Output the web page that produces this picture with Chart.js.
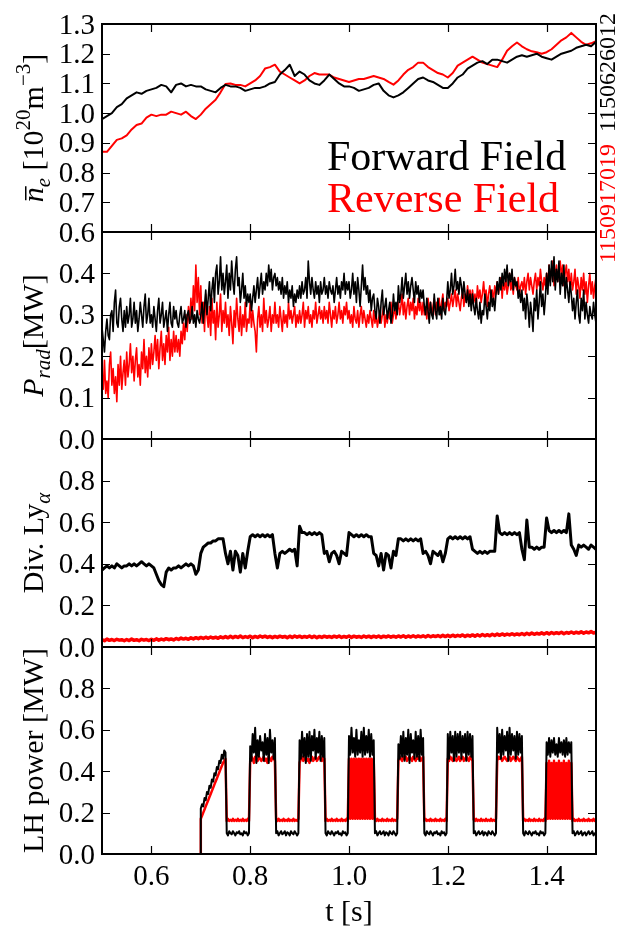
<!DOCTYPE html>
<html>
<head>
<meta charset="utf-8">
<script src="https://cdn.jsdelivr.net/npm/chart.js"></script>
<style>
  body { margin: 0; background: #fff; }
  #wrap { position: relative; width: 619px; height: 930px; }
  #wrap canvas { position: absolute; left: 0; top: 0; }
</style>
<script>
// time bases (s)
var tNe = Array.from({length: 101}, (_, i) => +(0.5 + i * 0.01).toFixed(2));
var tLya = Array.from({length: 201}, (_, i) => +(0.5 + i * 0.005).toFixed(3));
var tPrad = Array.from({length: 401}, (_, i) => +(0.5 + i * 0.0025).toFixed(4));
var tLH = [0.6999].concat(Array.from({length: 321}, (_, i) => +(0.7 + i * 0.0025).toFixed(4)));

// line averaged density [1e20 m^-3]
var neFwd = [
  0.98,0.99,1.00,1.02,1.03,1.05,1.06,1.07,1.065,1.075,
  1.08,1.085,1.095,1.09,1.07,1.095,1.10,1.09,1.095,1.09,
  1.09,1.08,1.075,1.07,1.085,1.095,1.09,1.09,1.085,1.075,
  1.08,1.085,1.085,1.09,1.10,1.105,1.13,1.145,1.163,1.125,
  1.14,1.13,1.11,1.10,1.095,1.11,1.13,1.115,1.10,1.09,
  1.09,1.085,1.075,1.08,1.085,1.095,1.10,1.075,1.06,1.053,
  1.06,1.07,1.085,1.10,1.115,1.12,1.11,1.105,1.095,1.085,
  1.085,1.10,1.12,1.13,1.15,1.16,1.17,1.175,1.165,1.18,
  1.18,1.175,1.17,1.18,1.19,1.195,1.19,1.195,1.20,1.19,
  1.185,1.18,1.19,1.20,1.205,1.21,1.22,1.225,1.23,1.225,1.24
];
var neRev = [
  0.87,0.87,0.89,0.91,0.915,0.925,0.945,0.96,0.965,0.985,
  0.995,0.99,0.995,0.995,1.005,1.00,0.995,1.005,0.99,0.98,
  0.995,1.015,1.03,1.045,1.07,1.098,1.10,1.095,1.095,1.09,
  1.10,1.11,1.125,1.15,1.155,1.163,1.14,1.13,1.12,1.11,
  1.10,1.11,1.125,1.135,1.13,1.13,1.13,1.12,1.115,1.11,
  1.105,1.11,1.115,1.115,1.12,1.125,1.12,1.115,1.105,1.096,
  1.11,1.13,1.146,1.155,1.17,1.17,1.155,1.145,1.135,1.13,
  1.12,1.135,1.16,1.17,1.18,1.19,1.18,1.17,1.165,1.16,
  1.155,1.18,1.21,1.225,1.238,1.225,1.215,1.208,1.205,1.20,
  1.205,1.215,1.23,1.245,1.255,1.27,1.255,1.24,1.23,1.235,1.242
];

// radiated power [MW], 2.5 ms samples
var pradFwd = [
  0.27,0.24,0.21,0.26,0.29,0.25,0.24,0.30,0.31,0.26,0.33,0.36,0.28,0.27,0.32,0.34,0.29,0.26,0.31,0.27,
  0.32,0.28,0.30,0.34,0.27,0.29,0.33,0.28,0.31,0.26,0.29,0.33,0.30,0.27,0.32,0.35,0.28,0.30,0.34,0.28,
  0.30,0.27,0.32,0.29,0.26,0.31,0.34,0.28,0.30,0.33,0.27,0.29,0.31,0.26,0.30,0.33,0.28,0.27,0.32,0.29,
  0.31,0.28,0.27,0.30,0.32,0.28,0.29,0.31,0.27,0.30,0.31,0.28,0.29,0.32,0.28,0.30,0.27,0.31,0.29,0.28,
  0.30,0.33,0.28,0.32,0.36,0.30,0.34,0.38,0.31,0.36,0.39,0.33,0.40,0.42,0.35,0.38,0.44,0.36,0.40,0.35,
  0.38,0.42,0.34,0.40,0.36,0.43,0.38,0.35,0.41,0.44,0.37,0.39,0.33,0.36,0.40,0.34,0.37,0.32,0.35,0.33,
  0.35,0.31,0.34,0.37,0.33,0.36,0.39,0.34,0.37,0.40,0.35,0.38,0.36,0.40,0.37,0.42,0.38,0.41,0.36,0.39,
  0.40,0.37,0.39,0.36,0.38,0.35,0.39,0.34,0.37,0.35,0.38,0.33,0.36,0.34,0.37,0.32,0.35,0.33,0.36,0.34,
  0.37,0.34,0.38,0.35,0.36,0.39,0.34,0.43,0.38,0.35,0.39,0.36,0.34,0.38,0.35,0.37,0.33,0.38,0.35,0.36,
  0.39,0.35,0.37,0.34,0.38,0.36,0.35,0.37,0.33,0.36,0.39,0.35,0.37,0.34,0.38,0.36,0.40,0.35,0.38,0.36,
  0.38,0.34,0.36,0.40,0.35,0.38,0.33,0.39,0.36,0.32,0.37,0.42,0.36,0.39,0.35,0.37,0.33,0.36,0.31,0.34,
  0.35,0.31,0.29,0.34,0.32,0.28,0.33,0.36,0.30,0.32,0.34,0.29,0.31,0.33,0.28,0.30,0.35,0.31,0.33,0.30,
  0.37,0.33,0.35,0.39,0.34,0.37,0.40,0.35,0.38,0.34,0.37,0.39,0.36,0.33,0.38,0.35,0.37,0.33,0.36,0.34,
  0.36,0.32,0.30,0.34,0.31,0.28,0.33,0.30,0.29,0.35,0.31,0.29,0.34,0.30,0.32,0.29,0.34,0.31,0.30,0.33,
  0.38,0.34,0.36,0.40,0.35,0.37,0.41,0.36,0.38,0.35,0.39,0.37,0.34,0.38,0.35,0.33,0.36,0.32,0.35,0.31,
  0.35,0.32,0.30,0.34,0.31,0.29,0.33,0.28,0.31,0.30,0.35,0.32,0.29,0.33,0.31,0.36,0.32,0.34,0.31,0.35,
  0.38,0.35,0.39,0.36,0.40,0.37,0.41,0.38,0.42,0.37,0.40,0.38,0.41,0.36,0.39,0.37,0.38,0.34,0.36,0.33,
  0.36,0.31,0.34,0.29,0.35,0.32,0.27,0.33,0.30,0.26,0.34,0.31,0.36,0.29,0.33,0.38,0.32,0.35,0.30,0.34,
  0.40,0.35,0.42,0.37,0.43,0.38,0.44,0.36,0.41,0.38,0.43,0.35,0.40,0.37,0.42,0.34,0.39,0.36,0.33,0.38,
  0.35,0.31,0.34,0.29,0.33,0.36,0.30,0.28,0.34,0.31,0.36,0.29,0.33,0.30,0.28,0.32,0.30,0.29,0.33,0.30,
  0.28
];
var pradRev = [
  0.16,0.12,0.19,0.11,0.14,0.10,0.18,0.21,0.13,0.17,0.11,0.15,0.09,0.18,0.13,0.20,0.12,0.16,0.19,0.13,
  0.21,0.15,0.18,0.23,0.16,0.20,0.14,0.19,0.22,0.15,0.18,0.13,0.21,0.17,0.24,0.16,0.20,0.15,0.22,0.17,
  0.23,0.18,0.21,0.25,0.19,0.24,0.17,0.22,0.26,0.19,0.23,0.18,0.25,0.21,0.27,0.19,0.24,0.20,0.26,0.21,
  0.25,0.21,0.24,0.20,0.26,0.23,0.28,0.24,0.30,0.26,0.32,0.28,0.34,0.29,0.37,0.31,0.42,0.33,0.39,0.30,
  0.37,0.28,0.33,0.26,0.35,0.30,0.27,0.32,0.25,0.34,0.28,0.31,0.24,0.33,0.27,0.30,0.35,0.26,0.31,0.28,
  0.33,0.27,0.30,0.25,0.32,0.28,0.23,0.31,0.27,0.34,0.29,0.26,0.32,0.25,0.30,0.27,0.33,0.26,0.29,0.28,
  0.33,0.27,0.31,0.28,0.26,0.21,0.29,0.32,0.27,0.30,0.26,0.34,0.28,0.31,0.27,0.29,0.32,0.26,0.30,0.28,
  0.33,0.28,0.30,0.27,0.32,0.29,0.26,0.31,0.28,0.30,0.27,0.33,0.29,0.31,0.28,0.30,0.32,0.27,0.30,0.28,
  0.31,0.28,0.30,0.33,0.27,0.31,0.29,0.32,0.28,0.30,0.27,0.31,0.29,0.33,0.28,0.30,0.32,0.29,0.31,0.28,
  0.32,0.29,0.31,0.28,0.33,0.30,0.27,0.31,0.29,0.32,0.28,0.30,0.33,0.29,0.31,0.28,0.32,0.30,0.33,0.29,
  0.31,0.28,0.30,0.27,0.32,0.29,0.28,0.31,0.27,0.30,0.32,0.28,0.31,0.29,0.27,0.30,0.28,0.31,0.29,0.27,
  0.31,0.28,0.30,0.27,0.29,0.31,0.28,0.30,0.32,0.27,0.30,0.28,0.31,0.29,0.33,0.28,0.30,0.32,0.29,0.31,
  0.33,0.30,0.32,0.35,0.30,0.33,0.29,0.32,0.34,0.30,0.33,0.31,0.34,0.29,0.32,0.30,0.34,0.31,0.33,0.30,
  0.33,0.30,0.32,0.29,0.34,0.31,0.33,0.30,0.32,0.34,0.30,0.33,0.31,0.34,0.30,0.33,0.35,0.31,0.33,0.32,
  0.34,0.31,0.33,0.35,0.32,0.34,0.36,0.32,0.35,0.33,0.31,0.34,0.36,0.32,0.35,0.33,0.37,0.34,0.36,0.33,
  0.36,0.33,0.35,0.32,0.37,0.34,0.36,0.33,0.35,0.38,0.34,0.36,0.32,0.35,0.37,0.34,0.36,0.33,0.37,0.35,
  0.38,0.35,0.37,0.39,0.34,0.38,0.36,0.39,0.35,0.37,0.40,0.36,0.38,0.35,0.39,0.37,0.36,0.39,0.35,0.37,
  0.38,0.36,0.39,0.35,0.38,0.40,0.36,0.39,0.37,0.35,0.38,0.40,0.36,0.39,0.37,0.41,0.38,0.36,0.39,0.37,
  0.40,0.37,0.42,0.38,0.41,0.43,0.37,0.40,0.42,0.38,0.41,0.43,0.39,0.42,0.37,0.40,0.42,0.38,0.41,0.36,
  0.40,0.36,0.38,0.41,0.35,0.39,0.37,0.34,0.39,0.36,0.40,0.35,0.38,0.33,0.37,0.40,0.35,0.38,0.34,0.37,
  0.39
];

// divertor Ly-alpha, 5 ms samples
var lyaFwd = [
  0.37,0.38,0.39,0.38,0.39,0.38,0.40,0.39,0.38,0.39,
  0.39,0.40,0.39,0.40,0.39,0.40,0.41,0.40,0.39,0.40,
  0.39,0.38,0.35,0.32,0.30,0.29,0.36,0.38,0.37,0.38,
  0.38,0.39,0.38,0.39,0.40,0.39,0.40,0.39,0.35,0.37,
  0.45,0.48,0.49,0.50,0.50,0.51,0.51,0.52,0.52,0.52,
  0.45,0.40,0.46,0.37,0.46,0.44,0.36,0.45,0.38,0.46,
  0.53,0.54,0.53,0.54,0.53,0.54,0.53,0.54,0.53,0.54,
  0.45,0.38,0.45,0.46,0.45,0.46,0.47,0.46,0.47,0.39,
  0.58,0.55,0.55,0.54,0.55,0.54,0.55,0.54,0.55,0.54,
  0.45,0.46,0.41,0.45,0.46,0.44,0.40,0.46,0.45,0.44,
  0.55,0.54,0.53,0.54,0.53,0.54,0.53,0.54,0.53,0.53,
  0.45,0.44,0.39,0.45,0.37,0.45,0.44,0.38,0.46,0.44,
  0.52,0.52,0.51,0.52,0.51,0.52,0.51,0.52,0.51,0.52,
  0.45,0.46,0.44,0.40,0.46,0.45,0.44,0.46,0.41,0.45,
  0.52,0.53,0.52,0.53,0.52,0.53,0.52,0.53,0.52,0.53,
  0.47,0.46,0.45,0.46,0.45,0.46,0.45,0.46,0.46,0.46,
  0.63,0.55,0.54,0.55,0.54,0.55,0.54,0.55,0.54,0.55,
  0.47,0.42,0.61,0.48,0.48,0.47,0.48,0.47,0.48,0.48,
  0.62,0.56,0.55,0.56,0.55,0.56,0.55,0.56,0.55,0.64,
  0.49,0.47,0.44,0.49,0.48,0.49,0.48,0.47,0.49,0.48,
  0.47
];
var lyaRev = [
  0.035,0.030,0.038,0.032,0.036,0.031,0.037,0.033,0.035,0.030,
  0.036,0.031,0.038,0.032,0.035,0.030,0.037,0.033,0.036,0.031,
  0.037,0.032,0.039,0.033,0.038,0.034,0.040,0.035,0.039,0.034,
  0.041,0.036,0.043,0.038,0.042,0.037,0.044,0.039,0.045,0.040,
  0.046,0.041,0.047,0.042,0.048,0.043,0.047,0.042,0.049,0.044,
  0.050,0.044,0.052,0.045,0.051,0.046,0.053,0.045,0.050,0.046,
  0.052,0.045,0.051,0.046,0.053,0.047,0.052,0.046,0.051,0.045,
  0.051,0.046,0.052,0.047,0.051,0.045,0.052,0.046,0.053,0.047,
  0.052,0.046,0.051,0.047,0.053,0.046,0.052,0.045,0.051,0.046,
  0.052,0.047,0.051,0.046,0.052,0.047,0.053,0.046,0.051,0.047,
  0.053,0.046,0.052,0.047,0.051,0.046,0.053,0.047,0.052,0.046,
  0.052,0.047,0.053,0.046,0.052,0.048,0.053,0.047,0.052,0.047,
  0.053,0.048,0.054,0.047,0.053,0.048,0.054,0.048,0.053,0.049,
  0.054,0.048,0.055,0.049,0.054,0.050,0.055,0.049,0.056,0.050,
  0.056,0.050,0.057,0.051,0.056,0.052,0.058,0.051,0.057,0.052,
  0.058,0.052,0.059,0.053,0.060,0.054,0.059,0.054,0.061,0.055,
  0.062,0.056,0.063,0.057,0.062,0.058,0.064,0.058,0.063,0.059,
  0.065,0.059,0.066,0.060,0.067,0.061,0.066,0.062,0.068,0.062,
  0.069,0.063,0.070,0.064,0.069,0.065,0.071,0.064,0.070,0.066,
  0.072,0.066,0.071,0.067,0.073,0.066,0.072,0.068,0.074,0.067,
  0.071
];

// LH power [MW], 2.5 ms samples from 0.7 s
var lhFwd = [0,
  0.22,0.24,0.23,0.27,0.26,0.30,0.29,0.33,0.32,0.36,0.35,0.39,0.38,0.42,0.41,0.45,0.44,0.48,0.46,0.50,0.49,
  0.10,0.09,0.11,0.10,0.095,0.11,0.10,0.09,0.105,0.10,0.11,0.095,0.10,0.09,0.11,0.10,0.105,0.09,0.10,
  0.52,0.45,0.58,0.49,0.61,0.44,0.55,0.47,0.57,0.50,0.54,0.45,0.58,0.48,0.56,0.44,0.60,0.49,0.55,0.46,0.56,
  0.10,0.11,0.09,0.10,0.11,0.095,0.10,0.11,0.09,0.105,0.10,0.09,0.11,0.10,0.095,0.11,0.10,0.09,0.10,
  0.55,0.46,0.59,0.47,0.56,0.44,0.58,0.47,0.59,0.45,0.57,0.50,0.60,0.46,0.56,0.49,0.59,0.45,0.57,0.47,0.56,
  0.10,0.09,0.11,0.10,0.095,0.11,0.10,0.09,0.105,0.10,0.11,0.095,0.10,0.09,0.11,0.10,0.105,0.09,0.10,
  0.57,0.48,0.61,0.49,0.56,0.47,0.60,0.48,0.55,0.49,0.59,0.47,0.61,0.48,0.57,0.49,0.60,0.47,0.58,0.48,0.55,
  0.10,0.11,0.09,0.10,0.11,0.095,0.10,0.11,0.09,0.105,0.10,0.09,0.11,0.10,0.095,0.11,0.10,0.09,0.10,
  0.53,0.46,0.57,0.47,0.59,0.45,0.56,0.48,0.60,0.44,0.58,0.49,0.55,0.46,0.59,0.47,0.57,0.45,0.60,0.48,0.56,
  0.10,0.09,0.11,0.10,0.095,0.11,0.10,0.09,0.105,0.10,0.11,0.095,0.10,0.09,0.11,0.10,0.105,0.09,0.10,
  0.58,0.46,0.59,0.49,0.57,0.45,0.59,0.47,0.58,0.49,0.59,0.46,0.57,0.49,0.58,0.45,0.59,0.48,0.58,0.47,0.57,
  0.10,0.11,0.09,0.10,0.11,0.095,0.10,0.11,0.09,0.105,0.10,0.09,0.11,0.10,0.095,0.11,0.10,0.09,0.10,
  0.61,0.49,0.58,0.46,0.60,0.48,0.57,0.50,0.59,0.45,0.61,0.48,0.58,0.50,0.57,0.46,0.59,0.48,0.58,0.49,0.57,
  0.10,0.09,0.11,0.10,0.095,0.11,0.10,0.09,0.105,0.10,0.11,0.095,0.10,0.09,0.11,0.10,0.105,0.09,0.10,
  0.54,0.48,0.56,0.47,0.55,0.49,0.56,0.48,0.53,0.47,0.56,0.49,0.54,0.48,0.55,0.47,0.56,0.48,0.54,0.49,0.54,
  0.10,0.11,0.09,0.10,0.11,0.095,0.10,0.11,0.09,0.10,0.105,0.09,0.10,0.11,0.095,0.10,0.11,0.09,0.10,0.10
];
var lhRev = [0,
  0.17,0.185,0.20,0.215,0.23,0.245,0.26,0.275,0.29,0.305,0.32,0.335,0.35,0.365,0.38,0.395,0.41,0.425,0.44,0.45,0.46,
  0.16,0.17,0.16,0.165,0.16,0.17,0.16,0.165,0.16,0.17,0.16,0.165,0.16,0.17,0.16,0.165,0.16,0.17,0.16,
  0.45,0.47,0.46,0.44,0.47,0.46,0.45,0.47,0.46,0.45,0.46,0.47,0.45,0.46,0.44,0.47,0.46,0.45,0.47,0.46,0.45,
  0.165,0.16,0.17,0.16,0.165,0.16,0.17,0.16,0.165,0.16,0.17,0.16,0.165,0.16,0.17,0.16,0.165,0.16,0.17,
  0.44,0.46,0.47,0.45,0.46,0.47,0.45,0.46,0.44,0.46,0.47,0.45,0.46,0.47,0.45,0.46,0.47,0.46,0.45,0.47,0.46,
  0.16,0.17,0.16,0.165,0.16,0.17,0.16,0.165,0.16,0.17,0.16,0.165,0.16,0.17,0.16,0.165,0.16,0.17,0.16,
  0.46,0.17,0.46,0.17,0.46,0.17,0.46,0.17,0.46,0.17,0.46,0.17,0.46,0.17,0.46,0.17,0.46,0.17,0.46,0.17,0.46,
  0.165,0.16,0.17,0.16,0.165,0.16,0.17,0.16,0.165,0.16,0.17,0.16,0.165,0.16,0.17,0.16,0.165,0.16,0.17,
  0.45,0.47,0.46,0.45,0.47,0.46,0.47,0.45,0.46,0.47,0.46,0.45,0.47,0.46,0.45,0.47,0.46,0.47,0.45,0.46,0.47,
  0.16,0.17,0.16,0.165,0.16,0.17,0.16,0.165,0.16,0.17,0.16,0.165,0.16,0.17,0.16,0.165,0.16,0.17,0.16,
  0.46,0.45,0.47,0.46,0.45,0.47,0.46,0.45,0.46,0.47,0.45,0.46,0.47,0.45,0.46,0.47,0.46,0.45,0.47,0.46,0.45,
  0.165,0.16,0.17,0.16,0.165,0.16,0.17,0.16,0.165,0.16,0.17,0.16,0.165,0.16,0.17,0.16,0.165,0.16,0.17,
  0.45,0.47,0.46,0.47,0.45,0.46,0.47,0.46,0.45,0.46,0.47,0.45,0.46,0.47,0.46,0.45,0.47,0.46,0.45,0.46,0.47,
  0.16,0.17,0.16,0.165,0.16,0.17,0.16,0.165,0.16,0.17,0.16,0.165,0.16,0.17,0.16,0.165,0.16,0.17,0.16,
  0.44,0.17,0.45,0.17,0.44,0.17,0.45,0.17,0.44,0.17,0.45,0.17,0.44,0.17,0.45,0.17,0.44,0.17,0.45,0.17,0.44,
  0.16,0.17,0.16,0.165,0.16,0.17,0.16,0.165,0.16,0.17,0.16,0.165,0.16,0.17,0.16,0.165,0.16,0.17,0.16,0.165
];

// tick labels
var tTicks = ['0.6', '0.8', '1.0', '1.2', '1.4'];
var neTicks = ['0.6', '0.7', '0.8', '0.9', '1.0', '1.1', '1.2', '1.3'];
var pradTicks = ['0.0', '0.1', '0.2', '0.3', '0.4'];
var lyaTicks = ['0.0', '0.2', '0.4', '0.6', '0.8'];
var lhTicks = ['0.0', '0.2', '0.4', '0.6', '0.8'];

var shotFwd = '1150626012';
var shotRev = '1150917019';
</script>
</head>
<body>
<div id="wrap">
  <canvas id="ne" width="619" height="930"></canvas>
  <canvas id="prad" width="619" height="930"></canvas>
  <canvas id="lya" width="619" height="930"></canvas>
  <canvas id="lh" width="619" height="930"></canvas>
</div>
<script>
var FONT = '"Liberation Serif", "DejaVu Serif", serif';

var panels = {
  ne:   {top: 24,  bottom: 232, min: 0.6, max: 1.3, t: tNe,   fwd: neFwd,   rev: neRev,   lw: [2, 2],
         ticks: neTicks,
         title: [{t: 'n', it: 1, bar: 1}, {t: 'e', it: 1, sub: 1}, {t: ' [10'}, {t: '20', sup: 1}, {t: 'm'}, {t: '\u22123', sup: 1}, {t: ']'}]},
  prad: {top: 232, bottom: 439, min: 0, max: 0.5, t: tPrad, fwd: pradFwd, rev: pradRev, lw: [1.6, 1.6],
         ticks: pradTicks,
         title: [{t: 'P', it: 1}, {t: 'rad', it: 1, sub: 1}, {t: '[MW]'}]},
  lya:  {top: 439, bottom: 647, min: 0, max: 1.0, t: tLya,  fwd: lyaFwd,  rev: lyaRev,  lw: [3, 3.5],
         ticks: lyaTicks,
         title: [{t: 'Div. Ly'}, {t: '\u03b1', it: 1, sub: 1}]},
  lh:   {top: 647, bottom: 854, min: 0, max: 1.0, t: tLH,   fwd: lhFwd,   rev: lhRev,   lw: [2, 2.5],
         ticks: lhTicks,
         title: [{t: 'LH power [MW]'}]}
};

function xy(ts, vs) {
  return ts.map((t, i) => ({x: t, y: vs[i]}));
}

// y-axis title with sub/superscripts, rotated
function drawRich(ctx, runs, x, y, size) {
  ctx.save();
  ctx.translate(x, y);
  ctx.rotate(-Math.PI / 2);
  var parts = runs.map(r => {
    var s = (r.sub || r.sup) ? Math.round(size * 0.7) : size;
    var font = (r.it ? 'italic ' : '') + s + 'px ' + FONT;
    ctx.font = font;
    return {r: r, font: font, w: ctx.measureText(r.t).width, dy: r.sub ? size * 0.22 : (r.sup ? -size * 0.42 : 0)};
  });
  var total = parts.reduce((s, p) => s + p.w, 0);
  var cx = -total / 2;
  ctx.textAlign = 'left';
  ctx.textBaseline = 'alphabetic';
  ctx.fillStyle = '#000';
  parts.forEach(p => {
    ctx.font = p.font;
    ctx.fillText(p.r.t, cx, p.dy);
    if (p.r.bar) ctx.fillRect(cx + 2, -size * 0.6, p.w - 1, 1.5);
    cx += p.w;
  });
  ctx.restore();
}

var decor = {
  id: 'decor',
  afterDatasetsDraw(chart) {
    var p = panels[chart.canvas.id];
    var ctx = chart.ctx, a = chart.chartArea;
    var xs = chart.scales.x, ys = chart.scales.y;
    ctx.save();
    ctx.strokeStyle = '#000';
    ctx.lineWidth = 1.2;
    ctx.beginPath();
    tTicks.forEach(l => {
      var px = Math.round(xs.getPixelForValue(parseFloat(l))) + 0.5;
      ctx.moveTo(px, a.top); ctx.lineTo(px, a.top + 8);
      ctx.moveTo(px, a.bottom); ctx.lineTo(px, a.bottom - 8);
    });
    p.ticks.forEach(l => {
      var py = Math.round(ys.getPixelForValue(parseFloat(l))) + 0.5;
      ctx.moveTo(a.left, py); ctx.lineTo(a.left + 8, py);
      ctx.moveTo(a.right, py); ctx.lineTo(a.right - 8, py);
    });
    ctx.stroke();
    ctx.lineWidth = 2;
    ctx.strokeRect(a.left, a.top, a.right - a.left, a.bottom - a.top);

    ctx.fillStyle = '#000';
    ctx.font = '29px ' + FONT;
    ctx.textAlign = 'right';
    ctx.textBaseline = 'alphabetic';
    p.ticks.forEach(l => {
      ctx.fillText(l, a.left - 7, ys.getPixelForValue(parseFloat(l)) + 9.5);
    });

    drawRich(ctx, p.title, 43, (a.top + a.bottom) / 2, 30);

    if (chart.canvas.id === 'ne') {
      ctx.textAlign = 'left';
      ctx.font = '42px ' + FONT;
      ctx.fillStyle = '#000';
      ctx.fillText('Forward Field', 327, 170);
      ctx.fillStyle = '#ff0000';
      ctx.fillText('Reverse Field', 327, 212);
      // shot numbers on the right edge
      ctx.save();
      ctx.translate(615, 0);
      ctx.rotate(-Math.PI / 2);
      ctx.font = '24px ' + FONT;
      ctx.textAlign = 'left';
      ctx.fillStyle = '#000';
      ctx.fillText(shotFwd, -132, 0);
      ctx.fillStyle = '#ff0000';
      ctx.fillText(shotRev, -263, 0);
      ctx.restore();
    }
    if (chart.canvas.id === 'lh') {
      ctx.textAlign = 'center';
      ctx.font = '29px ' + FONT;
      ctx.fillStyle = '#000';
      tTicks.forEach(l => ctx.fillText(l, xs.getPixelForValue(parseFloat(l)), a.bottom + 31));
      ctx.font = '30px ' + FONT;
      ctx.fillText('t [s]', (a.left + a.right) / 2, 921);
    }
    ctx.restore();
  }
};

Object.keys(panels).forEach(id => {
  var p = panels[id];
  new Chart(document.getElementById(id), {
    type: 'line',
    data: {
      datasets: [
        {data: xy(p.t, p.fwd), borderColor: '#000000', borderWidth: p.lw[0]},
        {data: xy(p.t, p.rev), borderColor: '#ff0000', borderWidth: p.lw[1]}
      ]
    },
    options: {
      responsive: false,
      animation: false,
      events: [],
      elements: {point: {radius: 0}, line: {tension: 0, borderJoinStyle: 'round'}},
      layout: {padding: {left: 102, right: 23, top: p.top, bottom: 930 - p.bottom}},
      scales: {
        x: {type: 'linear', min: 0.5, max: 1.5, display: false},
        y: {min: p.min, max: p.max, display: false}
      },
      plugins: {legend: {display: false}, tooltip: {enabled: false}}
    },
    plugins: [decor]
  });
});
</script>
</body>
</html>
